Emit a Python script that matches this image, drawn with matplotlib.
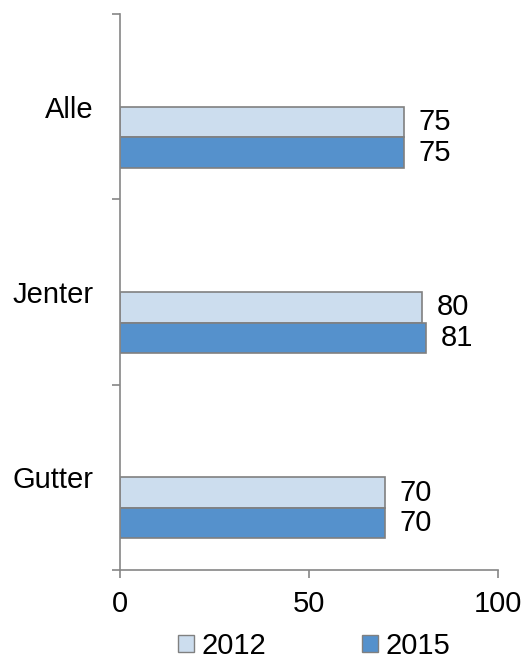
import matplotlib
matplotlib.use("Agg")
import matplotlib.pyplot as plt
from matplotlib.patches import Patch
import numpy as np

plt.rcParams['font.family'] = ['Liberation Sans', 'DejaVu Sans']

categories = ["Alle", "Jenter", "Gutter"]
series_names = ["2012", "2015"]
values_2012 = [75, 80, 70]
values_2015 = [75, 81, 70]
x_ticks = [0, 50, 100]

colors = ["#CCDDEE", "#5591CC"]
edge = "#808080"
FS = 21

fig = plt.figure(figsize=(5.23, 6.60), dpi=100)
ax = fig.add_axes([120/523, 1-570/660, 378/523, 556/660])

pos = np.arange(len(categories)) + 0.5
h = 0.165
for j, vals in enumerate([values_2012, values_2015]):
    y = pos + j * h
    ax.barh(y, vals, height=h, align='edge', color=colors[j], edgecolor=edge, linewidth=1.2)
    for yy, v in zip(y, vals):
        ax.annotate(str(v), (v, yy + h/2), xytext=(10.5, 0), textcoords='offset points',
                    va='center', ha='left', fontsize=FS)

ax.set_xlim(0, 100)
ax.set_ylim(3, 0)
ax.set_xticks(x_ticks)
ax.set_xticklabels([str(t) for t in x_ticks], fontsize=FS)
ax.set_yticks([0, 1, 2, 3])
ax.set_yticklabels([])
ax.set_yticks(pos, minor=True)
ax.set_yticklabels(categories, minor=True, fontsize=FS)
ax.tick_params(axis='y', which='major', length=5.5, width=1.2, color='#868686', direction='out')
ax.tick_params(axis='y', which='minor', length=0, pad=19)
ax.tick_params(axis='x', length=6, width=1.2, color='#868686', direction='out', pad=8.5)
for s in ['top', 'right']:
    ax.spines[s].set_visible(False)
for s in ['left', 'bottom']:
    ax.spines[s].set_color('#868686')
    ax.spines[s].set_linewidth(1.2)

handles = [Patch(facecolor=colors[i], edgecolor=edge, label=series_names[i]) for i in range(2)]
fig.legend(handles=handles, loc='center', bbox_to_anchor=(314/523, 1-646/660), ncol=2, frameon=False,
           fontsize=FS, handlelength=0.55, handleheight=0.55, handletextpad=0.25, columnspacing=3.3,
           borderpad=0, borderaxespad=0)

fig.savefig("out.png", dpi=100)
